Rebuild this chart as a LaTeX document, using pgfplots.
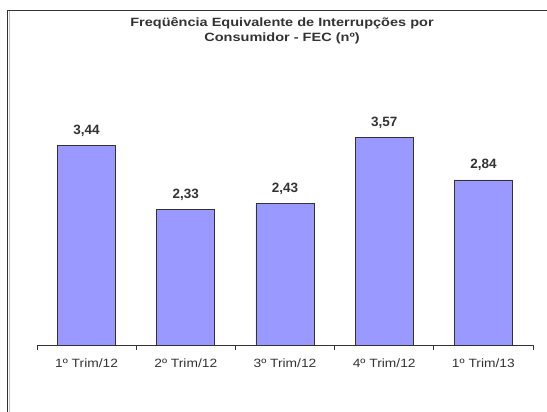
\documentclass[border=0pt]{standalone}
\usepackage{pgfplots}
\pgfplotsset{compat=1.18}
\usepackage{fontspec}
\setmainfont{Liberation Sans}
\newfontfamily\titlefont[FakeStretch=1.21]{Liberation Sans}
\newfontfamily\tickfont[FakeStretch=1.15]{Liberation Sans}
\definecolor{barfill}{HTML}{9999FF}
\definecolor{txt}{HTML}{333333}
\begin{document}
\begin{tikzpicture}[x=1pt,y=1pt]
\useasboundingbox (0,0) rectangle (547,412);
\draw[line width=1.6pt, color=txt] (7.5,0) -- (7.5,401.5) -- (547,401.5);
\draw[line width=0.8pt, color=black!25] (9,0) -- (9,400.5);
\node[font=\titlefont\bfseries\fontsize{12}{15.7}\selectfont, text=txt, align=center, anchor=base] at (282,412-42) {Freqüência Equivalente de Interrupções por\\Consumidor - FEC (nº)};
\begin{axis}[
  at={(37pt,67pt)}, anchor=south west,
  scale only axis, width=496pt, height=261.45pt,
  xmin=-0.5, xmax=4.5, ymin=0, ymax=4.5,
  axis y line=none, axis x line=bottom,
  x axis line style={-, color=txt, line width=0.9pt},
  xtick={0,1,2,3,4},
  xticklabels={1º Trim/12,2º Trim/12,3º Trim/12,4º Trim/12,1º Trim/13},
  major tick length=0pt,
  extra x ticks={-0.5,0.5,1.5,2.5,3.5,4.5},
  extra x tick labels={},
  extra x tick style={major tick length=5pt, tick align=outside, tick style={color=txt, line width=0.8pt}},
  xticklabel style={font=\tickfont\fontsize{12}{14}\selectfont, text=txt, yshift=-10pt},
  ybar, bar width=58pt,
  clip=false,
  point meta=explicit symbolic,
  nodes near coords,
  nodes near coords style={font=\bfseries\fontsize{13.5}{15}\selectfont, text=txt, anchor=base, inner sep=0pt, yshift=11pt},
]
\addplot[fill=barfill, draw=txt, line width=0.8pt] coordinates {
  (0,3.44) [3,44]
  (1,2.33) [2,33]
  (2,2.43) [2,43]
  (3,3.57) [3,57]
  (4,2.84) [2,84]
};
\end{axis}
\end{tikzpicture}
\end{document}
